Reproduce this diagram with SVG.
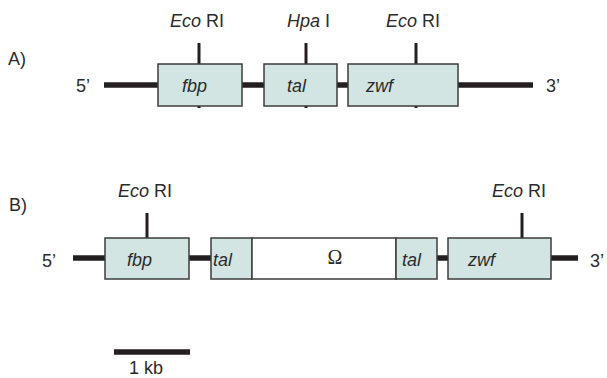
<svg xmlns="http://www.w3.org/2000/svg" width="607" height="378" viewBox="0 0 607 378">
  <style>
    text { font-family: "Liberation Sans", Arial, sans-serif; font-size: 18px; fill: #2b2b2b; }
    .it { font-style: italic; }
    .dna { stroke: #231f20; stroke-width: 5.5; fill: none; }
    .tick { stroke: #231f20; stroke-width: 3; fill: none; }
    .gene { fill: #d2e5e2; stroke: #3c3c3c; stroke-width: 1.5; }
    .insert { fill: #ffffff; stroke: #3c3c3c; stroke-width: 1.5; }
    .omega { font-family: "Liberation Serif", "Times New Roman", serif; font-size: 20px; }
  </style>
  <rect width="607" height="378" fill="#ffffff"/>

  <!-- Panel A: wild-type locus -->
  <g id="panelA">
    <text x="8" y="65">A)</text>
    <text x="76" y="92">5’</text>
    <text x="546" y="92">3’</text>
    <g id="connectorsA">
      <line class="dna" x1="104" y1="85" x2="533" y2="85"/>
      <line class="tick" x1="199" y1="43" x2="199" y2="108"/>
      <line class="tick" x1="306" y1="43" x2="306" y2="108"/>
      <line class="tick" x1="416" y1="43" x2="416" y2="108"/>
    </g>
    <g id="A_fbp">
      <rect class="gene" x="158" y="64" width="84" height="42"/>
      <text class="it" x="182" y="92">fbp</text>
    </g>
    <g id="A_tal">
      <rect class="gene" x="264" y="64" width="73" height="42"/>
      <text class="it" x="287" y="92">tal</text>
    </g>
    <g id="A_zwf">
      <rect class="gene" x="348" y="64" width="110" height="42"/>
      <text class="it" x="366" y="92">zwf</text>
    </g>
    <g id="A_site1"><text x="170" y="27"><tspan class="it">Eco</tspan> RI</text></g>
    <g id="A_site2"><text x="287" y="27"><tspan class="it">Hpa</tspan> I</text></g>
    <g id="A_site3"><text x="386" y="27"><tspan class="it">Eco</tspan> RI</text></g>
  </g>

  <!-- Panel B: disrupted locus with omega cassette -->
  <g id="panelB">
    <text x="9" y="211">B)</text>
    <text x="42" y="267">5’</text>
    <text x="590" y="267">3’</text>
    <g id="connectorsB">
      <line class="dna" x1="73" y1="258" x2="578" y2="258"/>
      <line class="tick" x1="147" y1="213" x2="147" y2="238"/>
      <line class="tick" x1="522" y1="213" x2="522" y2="238"/>
    </g>
    <g id="B_fbp">
      <rect class="gene" x="105" y="238" width="84" height="41"/>
      <text class="it" x="127" y="266">fbp</text>
    </g>
    <g id="B_tal1">
      <rect class="gene" x="211" y="238" width="41" height="41"/>
      <text class="it" x="213" y="266">tal</text>
    </g>
    <g id="B_omega">
      <rect class="insert" x="252" y="238" width="144" height="41"/>
      <text class="omega" x="335" y="264" text-anchor="middle">Ω</text>
    </g>
    <g id="B_tal2">
      <rect class="gene" x="396" y="238" width="41" height="41"/>
      <text class="it" x="402" y="266">tal</text>
    </g>
    <g id="B_zwf">
      <rect class="gene" x="448" y="238" width="103" height="41"/>
      <text class="it" x="468" y="266">zwf</text>
    </g>
    <g id="B_site1"><text x="118" y="197"><tspan class="it">Eco</tspan> RI</text></g>
    <g id="B_site2"><text x="492" y="197"><tspan class="it">Eco</tspan> RI</text></g>
  </g>

  <!-- Scale bar -->
  <g id="scale">
    <line class="dna" x1="114" y1="352" x2="190" y2="352"/>
    <text x="129" y="374">1 kb</text>
  </g>
</svg>
